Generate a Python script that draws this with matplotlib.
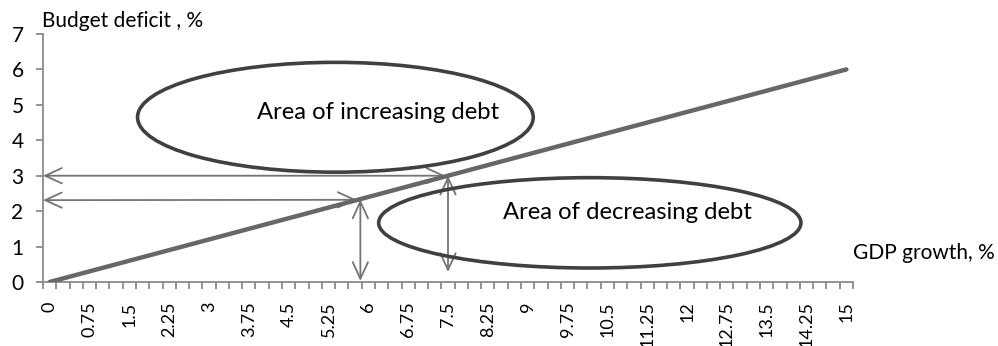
import matplotlib
matplotlib.use("Agg")
import matplotlib.pyplot as plt
from matplotlib.patches import Ellipse
import numpy as np

plt.rcParams['font.family'] = ['Lato', 'DejaVu Sans']

# Break-even line: budget deficit vs. GDP growth
gdp_growth = [0, 15]
budget_deficit = [0, 6]

# Category labels along the x axis (every third of the 0.25 steps)
x_labels = ["0", "0.75", "1.5", "2.25", "3", "3.75", "4.5", "5.25", "6",
            "6.75", "7.5", "8.25", "9", "9.75", "10.5", "11.25", "12",
            "12.75", "13.5", "14.25", "15"]
x_label_pos = [0, 0.75, 1.5, 2.25, 3, 3.75, 4.5, 5.25, 6, 6.75, 7.5, 8.25,
               9, 9.75, 10.5, 11.25, 12, 12.75, 13.5, 14.25, 15]
y_ticks = [0, 1, 2, 3, 4, 5, 6, 7]

# Reference points marked with arrows (growth, deficit)
point_a = (7.5, 3.0)
point_b = (5.85, 2.33)

fig = plt.figure(figsize=(9.98, 3.46), dpi=100)
ax = fig.add_axes([43 / 998, 1 - 282 / 346, (853 - 43) / 998, (282 - 34) / 346])

ax.plot(gdp_growth, budget_deficit, color="#676767", lw=3.2,
        solid_capstyle="round", zorder=3)

ax.set_xlim(-0.125, 15.125)
ax.set_ylim(0, 7)

# spines
for s in ("top", "right"):
    ax.spines[s].set_visible(False)
for s in ("left", "bottom"):
    ax.spines[s].set_color("#8a8a8a")
    ax.spines[s].set_linewidth(1.3)

ax.set_yticks(y_ticks)
ax.set_yticklabels([str(v) for v in y_ticks])
ax.tick_params(axis="y", direction="out", length=5, width=1.3, color="#8a8a8a",
               labelsize=15, pad=9)

ax.set_xticks(x_label_pos)
ax.set_xticklabels(x_labels, rotation=90)
ax.tick_params(axis="x", which="major", length=0, labelsize=13, pad=14)
ax.set_xticks(np.arange(-0.125, 15.2, 0.25), minor=True)
ax.tick_params(axis="x", which="minor", direction="out", length=5, width=1.3,
               color="#8a8a8a")

# arrows
arrow_kw = dict(arrowstyle="<->,head_length=1.2,head_width=0.55",
                color="#747474", lw=1.3, shrinkA=0, shrinkB=0, mutation_scale=10)
x_left = -0.125
ax.annotate("", xy=(x_left, point_a[1]), xytext=(point_a[0] - 0.05, point_a[1]),
            arrowprops=arrow_kw, zorder=2)
ax.annotate("", xy=(x_left, point_b[1] - 0.02), xytext=(point_b[0] - 0.07, point_b[1] - 0.01),
            arrowprops=arrow_kw, zorder=2)
ax.annotate("", xy=(point_b[0], 0.03), xytext=(point_b[0], point_b[1]),
            arrowprops=arrow_kw, zorder=2)
ax.annotate("", xy=(point_a[0], 0.28), xytext=(point_a[0], point_a[1]),
            arrowprops=arrow_kw, zorder=2)

# region ellipses
ax.add_patch(Ellipse((5.38, 4.65), 7.45, 3.1, fill=False, ec="#404040", lw=2.6,
                     zorder=4, clip_on=False))
ax.add_patch(Ellipse((10.17, 1.67), 7.95, 2.55, fill=False, ec="#404040", lw=2.6,
                     zorder=4, clip_on=False))

ax.text(6.19, 4.79, "Area of increasing debt", ha="center", va="center",
        fontsize=17.2, color="black", zorder=5)
ax.text(10.88, 1.95, "Area of decreasing debt", ha="center", va="center",
        fontsize=17.2, color="black", zorder=5)

fig.text(42 / 998, 1 - 21 / 346, "Budget deficit , %", ha="left", va="center",
         fontsize=15)
fig.text(853 / 998, 1 - 253 / 346, "GDP growth, %", ha="left", va="center",
         fontsize=15)

fig.savefig("out.png", dpi=100)
